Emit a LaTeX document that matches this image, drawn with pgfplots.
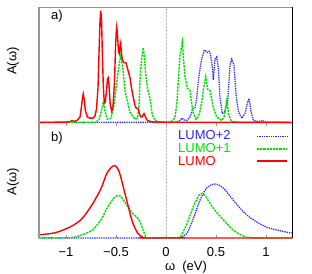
\documentclass[border=0pt]{standalone}
\usepackage{fontspec}
\setmainfont{Liberation Sans}
\usepackage{pgfplots}
\pgfplotsset{compat=1.18}
\definecolor{gred}{RGB}{255,0,0}
\definecolor{ggreen}{RGB}{0,225,0}
\definecolor{gblue}{RGB}{40,40,255}
\definecolor{fgray}{RGB}{150,150,150}
\tikzset{
  redl/.style={color=gred, line width=1.4pt, solid},
  greenl/.style={color=ggreen, line width=1.4pt, dash pattern=on 2.2pt off 1pt},
  bluel/.style={color=gblue, line width=1.3pt, dash pattern=on 1.3pt off 1pt},
}
\pgfplotsset{
  panel/.style={
    scale only axis, width=253pt, height=115.5pt,
    xmin=-1.27, xmax=1.26, ymin=0, ymax=1,
    axis line style={draw=none},
    ytick=\empty,
    tick align=inside, major tick length=3pt,
    xtick style={fgray, line width=0.5pt},
    clip=false,
  },
}
\begin{document}
\begin{tikzpicture}[font=\fontsize{13}{15}\selectfont]
\useasboundingbox (-39pt,-34.7pt) rectangle (273pt,238.3pt);
% ---------------- panel a ----------------
\begin{axis}[panel, at={(0,115.5pt)}, anchor=south west, xtick=\empty]
\draw[fgray!60, densely dotted, line width=0.4pt] (axis cs:0,0) -- (axis cs:0,1);
\addplot[bluel] coordinates {
(-1.27,0.003) (0.10,0.004) (0.14,0.02) (0.157,0.04) (0.18,0.025) (0.207,0.02) (0.24,0.05)
(0.267,0.12) (0.29,0.13) (0.305,0.20) (0.323,0.36) (0.34,0.47) (0.357,0.55) (0.383,0.63)
(0.40,0.62) (0.413,0.61) (0.43,0.62) (0.44,0.61) (0.46,0.51) (0.473,0.37) (0.48,0.45)
(0.49,0.55) (0.507,0.57) (0.523,0.48) (0.54,0.22) (0.563,0.08) (0.59,0.10) (0.617,0.19)
(0.63,0.36) (0.64,0.50) (0.657,0.55) (0.68,0.50) (0.70,0.25) (0.723,0.10) (0.757,0.04)
(0.79,0.08) (0.813,0.17) (0.83,0.21) (0.85,0.10) (0.873,0.02) (0.92,0.01) (0.96,0.02)
(1.0,0.005) (1.26,0.003)};
\addplot[greenl] coordinates {
(-1.27,0.002) (-0.70,0.004) (-0.67,0.03) (-0.65,0.09) (-0.627,0.18) (-0.61,0.10)
(-0.587,0.03) (-0.55,0.04) (-0.52,0.15) (-0.493,0.34) (-0.47,0.50) (-0.453,0.58)
(-0.433,0.48) (-0.41,0.28) (-0.387,0.19) (-0.36,0.09) (-0.31,0.03) (-0.285,0.04)
(-0.27,0.15) (-0.26,0.37) (-0.245,0.55) (-0.227,0.65) (-0.215,0.55) (-0.203,0.42)
(-0.183,0.29) (-0.16,0.21) (-0.137,0.07) (-0.11,0.02) (-0.06,0.005) (0.03,0.005)
(0.07,0.02) (0.09,0.05) (0.11,0.18) (0.123,0.36) (0.14,0.58) (0.163,0.70) (0.175,0.55)
(0.19,0.40) (0.213,0.30) (0.24,0.28) (0.255,0.18) (0.267,0.10) (0.30,0.03) (0.32,0.05)
(0.34,0.10) (0.36,0.20) (0.373,0.28) (0.397,0.40) (0.417,0.29) (0.44,0.28) (0.473,0.13)
(0.507,0.05) (0.557,0.02) (0.58,0.05) (0.59,0.10) (0.607,0.19) (0.63,0.06) (0.657,0.01)
(0.75,0.004) (1.26,0.003)};
\addplot[redl] coordinates {
(-1.27,0.004) (-1.0,0.006) (-0.96,0.01) (-0.94,0.02) (-0.92,0.012) (-0.89,0.02)
(-0.86,0.05) (-0.845,0.14) (-0.835,0.22) (-0.827,0.25) (-0.818,0.20) (-0.805,0.10)
(-0.785,0.05) (-0.76,0.04) (-0.73,0.04) (-0.71,0.06) (-0.695,0.12) (-0.68,0.30)
(-0.67,0.60) (-0.66,0.88) (-0.653,0.97) (-0.645,0.90) (-0.637,0.62) (-0.627,0.32)
(-0.617,0.17) (-0.607,0.18) (-0.595,0.28) (-0.585,0.38) (-0.577,0.39) (-0.568,0.30)
(-0.558,0.16) (-0.543,0.10) (-0.53,0.14) (-0.515,0.35) (-0.505,0.65) (-0.497,0.80)
(-0.493,0.83) (-0.485,0.76) (-0.475,0.62) (-0.468,0.60) (-0.46,0.66) (-0.453,0.69)
(-0.445,0.60) (-0.435,0.54) (-0.42,0.52) (-0.40,0.52) (-0.385,0.47) (-0.36,0.39)
(-0.345,0.30) (-0.327,0.22) (-0.31,0.15) (-0.30,0.13) (-0.277,0.12) (-0.265,0.08)
(-0.253,0.05) (-0.24,0.05) (-0.22,0.08) (-0.205,0.05) (-0.187,0.02) (-0.15,0.01)
(-0.10,0.006) (0,0.005) (0.5,0.004) (1.26,0.003)};
\draw[fgray, line width=1.2pt] (axis description cs:0,0) -- (axis description cs:0,1) -- (axis description cs:1,1);
\draw[black, line width=0.8pt] (axis description cs:1,1) -- (axis description cs:1,0);
\node at ([xshift=18pt,yshift=-9pt]axis description cs:0,1) {a)};
\node[rotate=90] at ([xshift=-26pt,yshift=4pt]axis description cs:0,0.5) {A(ω)};
\end{axis}
% ---------------- panel b ----------------
\begin{axis}[panel, at={(0,0)}, anchor=south west,
  xtick={-1,-0.5,0,0.5,1}, xticklabels={−1,−0.5,0,0.5,1},
  xticklabel style={yshift=-6pt},
]
\draw[fgray!60, densely dotted, line width=0.4pt] (axis cs:0,0) -- (axis cs:0,1);
\addplot[bluel, smooth] coordinates {
(-1.27,0.003) (0.10,0.004) (0.14,0.008) (0.207,0.04) (0.273,0.17) (0.34,0.33)
(0.407,0.435) (0.49,0.47) (0.573,0.435) (0.673,0.33) (0.773,0.23) (0.873,0.16)
(1.007,0.096) (1.14,0.066) (1.257,0.045)};
\addplot[greenl, smooth] coordinates {
(-1.27,0.003) (-1.07,0.004) (-0.94,0.007) (-0.84,0.03) (-0.74,0.07) (-0.65,0.16)
(-0.59,0.26) (-0.52,0.35) (-0.463,0.37) (-0.403,0.30) (-0.337,0.22) (-0.27,0.16)
(-0.237,0.09) (-0.20,0.01) (-0.17,0.003) (0.10,0.003) (0.14,0.01) (0.207,0.12)
(0.273,0.275) (0.34,0.385) (0.39,0.37) (0.473,0.26) (0.573,0.16) (0.673,0.07)
(0.773,0.02) (0.87,0.004) (1.26,0.003)};
\addplot[redl, smooth] coordinates {
(-1.27,0.03) (-1.10,0.05) (-0.94,0.107) (-0.84,0.17) (-0.74,0.29) (-0.65,0.43)
(-0.59,0.565) (-0.52,0.63) (-0.47,0.58) (-0.42,0.42) (-0.377,0.275) (-0.337,0.145)
(-0.287,0.05) (-0.237,0.01) (-0.20,0.003) (0.5,0.003) (1.26,0.003)};
% legend
\node[anchor=west, text=gblue, inner sep=0pt] at ([xshift=139pt,yshift=-12.3pt]axis description cs:0,1) {LUMO+2};
\node[anchor=west, text=ggreen, inner sep=0pt] at ([xshift=139pt,yshift=-25.3pt]axis description cs:0,1) {LUMO+1};
\node[anchor=west, text=gred, inner sep=0pt] at ([xshift=139pt,yshift=-38pt]axis description cs:0,1) {LUMO};
\draw[bluel] ([xshift=218pt,yshift=-13.5pt]axis description cs:0,1) -- ([xshift=248pt,yshift=-13.5pt]axis description cs:0,1);
\draw[greenl] ([xshift=218pt,yshift=-26pt]axis description cs:0,1) -- ([xshift=248pt,yshift=-26pt]axis description cs:0,1);
\draw[redl] ([xshift=218pt,yshift=-38pt]axis description cs:0,1) -- ([xshift=248pt,yshift=-38pt]axis description cs:0,1);
\draw[fgray, line width=1.2pt] (axis description cs:0,0) -- (axis description cs:0,1);
\draw[black, line width=0.8pt] (axis description cs:1,1) -- (axis description cs:1,0);
\node at ([xshift=18pt,yshift=-15.5pt]axis description cs:0,1) {b)};
\node[rotate=90] at ([xshift=-26pt,yshift=-1pt]axis description cs:0,0.5) {A(ω)};
\node at ([xshift=147pt,yshift=-29pt]axis description cs:0,0) {ω\ \ (eV)};
\end{axis}
\end{tikzpicture}
\end{document}
